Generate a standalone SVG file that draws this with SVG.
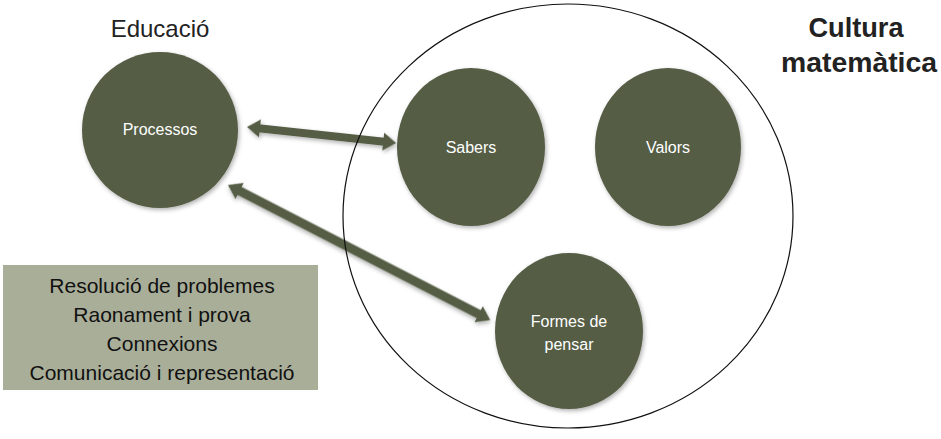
<svg xmlns="http://www.w3.org/2000/svg" width="941" height="439" viewBox="0 0 941 439">
<defs>
<filter id="sh" x="-20%" y="-20%" width="140%" height="140%">
<feDropShadow dx="1.5" dy="2" stdDeviation="2" flood-color="#000" flood-opacity="0.3"/>
</filter>
</defs>
<style>
.node{fill:#555d45;filter:url(#sh)}
.lbl{font-family:"Liberation Sans",Arial,sans-serif;font-size:16px;fill:#ffffff;text-anchor:middle}
.arrow{fill:#555d45;filter:url(#sh)}
.title{font-family:"Liberation Sans",Arial,sans-serif;fill:#222;text-anchor:middle}
.box{font-family:"Liberation Sans",Arial,sans-serif;font-size:21px;fill:#111;text-anchor:middle}
</style>
<rect width="941" height="439" fill="#ffffff"/>
<text class="title" x="160" y="37" font-size="24">Educació</text>
<text class="title" x="856" y="37" font-size="28" font-weight="bold" textLength="95" lengthAdjust="spacingAndGlyphs">Cultura</text>
<text class="title" x="859" y="72" font-size="28" font-weight="bold" textLength="156" lengthAdjust="spacingAndGlyphs">matemàtica</text>
<g id="box">
<rect x="3" y="265" width="315" height="125" fill="#a9ae99"/>
<text class="box" x="162" y="293">Resolució de problemes</text>
<text class="box" x="162" y="322">Raonament i prova</text>
<text class="box" x="162" y="351">Connexions</text>
<text class="box" x="162" y="380">Comunicació i representació</text>
</g>
<g id="processos"><ellipse class="node" cx="160" cy="130" rx="78" ry="78"/><text class="lbl" x="160" y="135">Processos</text></g>
<g id="sabers"><ellipse class="node" cx="471" cy="147" rx="74" ry="79"/><text class="lbl" x="471" y="153">Sabers</text></g>
<g id="valors"><ellipse class="node" cx="668" cy="147" rx="73" ry="79"/><text class="lbl" x="668" y="153">Valors</text></g>
<g id="formes"><ellipse class="node" cx="569" cy="331" rx="74" ry="78"/><text class="lbl" x="569" y="327">Formes de</text><text class="lbl" x="569" y="350">pensar</text></g>
<g id="connectors">
<path class="arrow" transform="translate(247,127) rotate(6.13)" d="M0,0 L13,-9 L13,-4 L137,-4 L137,-9 L150,0 L137,9 L137,4 L13,4 L13,9 Z"/>
<path class="arrow" transform="translate(228,185) rotate(27.26)" d="M0,0 L13,-9 L13,-4.5 L282,-4.5 L282,-9 L295,0 L282,9 L282,4.5 L13,4.5 L13,9 Z"/>
</g>
<g id="cultura"><ellipse cx="568" cy="216" rx="225" ry="212" fill="none" stroke="#111" stroke-width="1.2"/></g>
</svg>
